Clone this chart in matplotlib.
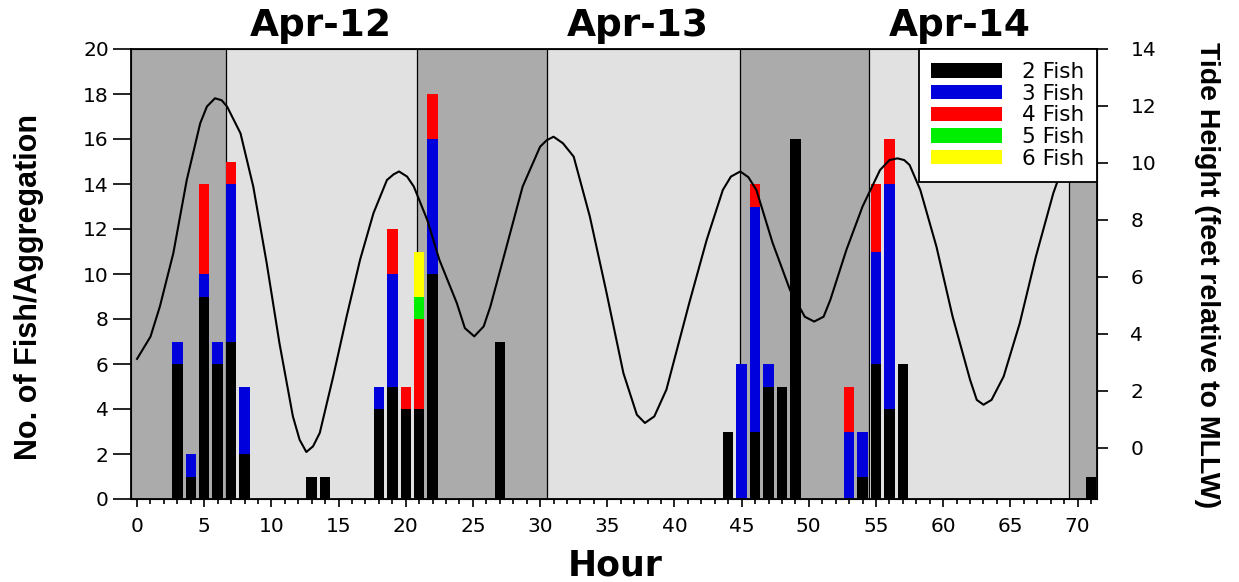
import matplotlib
matplotlib.use('Agg')
import matplotlib.pyplot as plt
import numpy as np
from matplotlib.patches import Patch

# fish counts per hour, split by aggregation size
hours = [3, 4, 5, 6, 7, 8, 13, 14, 18, 19, 20, 21, 22, 27,
         44, 45, 46, 47, 48, 49, 53, 54, 55, 56, 57, 71]
fish2 = [6, 1, 9, 6, 7, 2, 1, 1, 4, 5, 4, 4, 10, 7,
         3, 0, 3, 5, 5, 16, 0, 1, 6, 4, 6, 1]
fish3 = [1, 1, 1, 1, 7, 3, 0, 0, 1, 5, 0, 0, 6, 0,
         0, 6, 10, 1, 0, 0, 3, 2, 5, 10, 0, 0]
fish4 = [0, 0, 4, 0, 1, 0, 0, 0, 0, 2, 1, 4, 2, 0,
         0, 0, 1, 0, 0, 0, 2, 0, 3, 2, 0, 0]
fish5 = [0, 0, 0, 0, 0, 0, 0, 0, 0, 0, 0, 1, 0, 0,
         0, 0, 0, 0, 0, 0, 0, 0, 0, 0, 0, 0]
fish6 = [0, 0, 0, 0, 0, 0, 0, 0, 0, 0, 0, 2, 0, 0,
         0, 0, 0, 0, 0, 0, 0, 0, 0, 0, 0, 0]
series_labels = ['2 Fish', '3 Fish', '4 Fish', '5 Fish', '6 Fish']

# tide height (hour, feet rel. to MLLW)
tide_hour = [0, 1.0, 1.7, 2.7, 3.7, 4.7, 5.2, 5.8, 6.3, 6.7, 7.7, 8.65, 9.65,
             10.6, 11.6, 12.1, 12.6, 13.1, 13.6, 14.6, 15.6, 16.6, 17.6, 18.6,
             19.1, 19.5, 20.1, 20.6, 21.6, 22.5, 23.8, 24.4, 25.1, 25.8, 26.3,
             27.5, 28.7, 30.0, 30.5, 31.0, 31.7, 32.5, 33.7, 34.9, 36.2, 37.2,
             37.8, 38.5, 39.4, 41.1, 42.4, 43.6, 44.2, 44.9, 45.5, 46.1, 47.3,
             48.6, 49.7, 50.4, 51.1, 51.6, 52.8, 54.0, 55.3, 56.0, 56.6, 57.1,
             57.5, 58.3, 59.5, 60.7, 62.0, 62.5, 63.0, 63.6, 64.5, 65.7, 66.9,
             68.2, 69.3, 70.3, 71.3]
tide_ft = [3.12, 3.9, 4.96, 6.83, 9.4, 11.39, 11.98, 12.27, 12.2, 11.98, 11.04,
           9.17, 6.48, 3.67, 1.10, 0.28, -0.15, 0.05, 0.52, 2.50, 4.61, 6.60,
           8.24, 9.40, 9.6, 9.70, 9.52, 9.17, 8.0, 6.6, 5.08, 4.2, 3.91, 4.26,
           4.96, 7.06, 9.17, 10.57, 10.8, 10.92, 10.69, 10.22, 8.12, 5.54, 2.62,
           1.16, 0.87, 1.1, 2.04, 5.08, 7.30, 9.05, 9.52, 9.70, 9.5, 9.05, 7.2,
           5.54, 4.6, 4.43, 4.6, 5.19, 6.95, 8.47, 9.75, 10.1, 10.16, 10.1,
           9.93, 9.05, 7.06, 4.61, 2.39, 1.68, 1.51, 1.68, 2.50, 4.37, 6.71,
           8.94, 10.4, 11.2, 11.4]

# day / night shading boundaries (hours)
shade_edges = [-0.45, 6.6, 20.85, 30.55, 44.9, 54.5, 69.35, 71.45]
day_labels = ['Apr-12', 'Apr-13', 'Apr-14']
day_label_x = [13.7, 37.3, 61.2]

colors = ['#000000', '#0000dd', '#ff0000', '#00ee00', '#ffff00']
dark, light = '#ababab', '#e1e1e1'

fig = plt.figure(figsize=(12.39, 5.82), dpi=100)
ax = fig.add_axes([131 / 1239, 1 - 499 / 582, 966 / 1239, 450 / 582])

# night / day background bands
for i in range(len(shade_edges) - 1):
    ax.axvspan(shade_edges[i], shade_edges[i + 1],
               color=dark if i % 2 == 0 else light, zorder=0, lw=0)
for e in shade_edges[1:-1]:
    ax.axvline(e, color='black', lw=0.9, zorder=1)

# stacked bars
x = np.array(hours)
bottom = np.zeros(len(hours))
for vals, c in zip([fish2, fish3, fish4, fish5, fish6], colors):
    v = np.array(vals)
    ax.bar(x, v, width=0.78, bottom=bottom, color=c, lw=0, zorder=2)
    bottom += v

ax.set_xlim(-0.45, 71.45)
ax.set_ylim(0, 20)
ax.set_xticks(np.arange(0, 71, 5))
ax.set_xticks(np.arange(0, 72, 1), minor=True)
ax.set_yticks(np.arange(0, 21, 2))
ax.tick_params(axis='x', which='major', direction='out', length=6, width=1.2,
               labelsize=14.5, pad=7)
ax.tick_params(axis='x', which='minor', direction='out', length=3.5, width=1.2)
ax.tick_params(axis='y', direction='out', length=13, width=1.2, labelsize=14.5, pad=3)
for s in ax.spines.values():
    s.set_linewidth(1.3)

# tide on the right axis
ax2 = ax.twinx()
ax2.plot(tide_hour, tide_ft, color='black', lw=1.5, zorder=3)
ax2.set_ylim(-1.8, 14)
ax2.set_yticks(np.arange(0, 15, 2))
ax2.tick_params(axis='y', direction='out', length=8, width=1.2, labelsize=14.5, pad=16)

handles = [Patch(facecolor=c, edgecolor='none') for c in colors]
leg = ax2.legend(handles, series_labels, loc='upper right', bbox_to_anchor=(1, 1),
                 borderaxespad=0, fancybox=False, edgecolor='black', framealpha=1,
                 fontsize=15.5, handlelength=3.3, handleheight=0.65,
                 labelspacing=0.08, borderpad=0.6, handletextpad=0.9)
leg.get_frame().set_linewidth(1.3)
leg.set_zorder(10)

for lab, hx in zip(day_labels, day_label_x):
    ax.text(hx, 1.012, lab, transform=ax.get_xaxis_transform(), ha='center',
            va='bottom', fontsize=27, fontweight='bold')

fig.text(29 / 1239, 1 - 287 / 582, 'No. of Fish/Aggregation', rotation=90,
         ha='center', va='center', fontsize=22, fontweight='bold',
         family='Liberation Sans')
fig.text(1207 / 1239, 1 - 275 / 582, 'Tide Height (feet relative to MLLW)',
         rotation=270, ha='center', va='center', fontsize=20.5, fontweight='bold',
         family='Liberation Sans')
fig.text(615 / 1239, 1 - 566 / 582, 'Hour', ha='center', va='center',
         fontsize=25, fontweight='bold')

fig.savefig('out.png', dpi=100)
